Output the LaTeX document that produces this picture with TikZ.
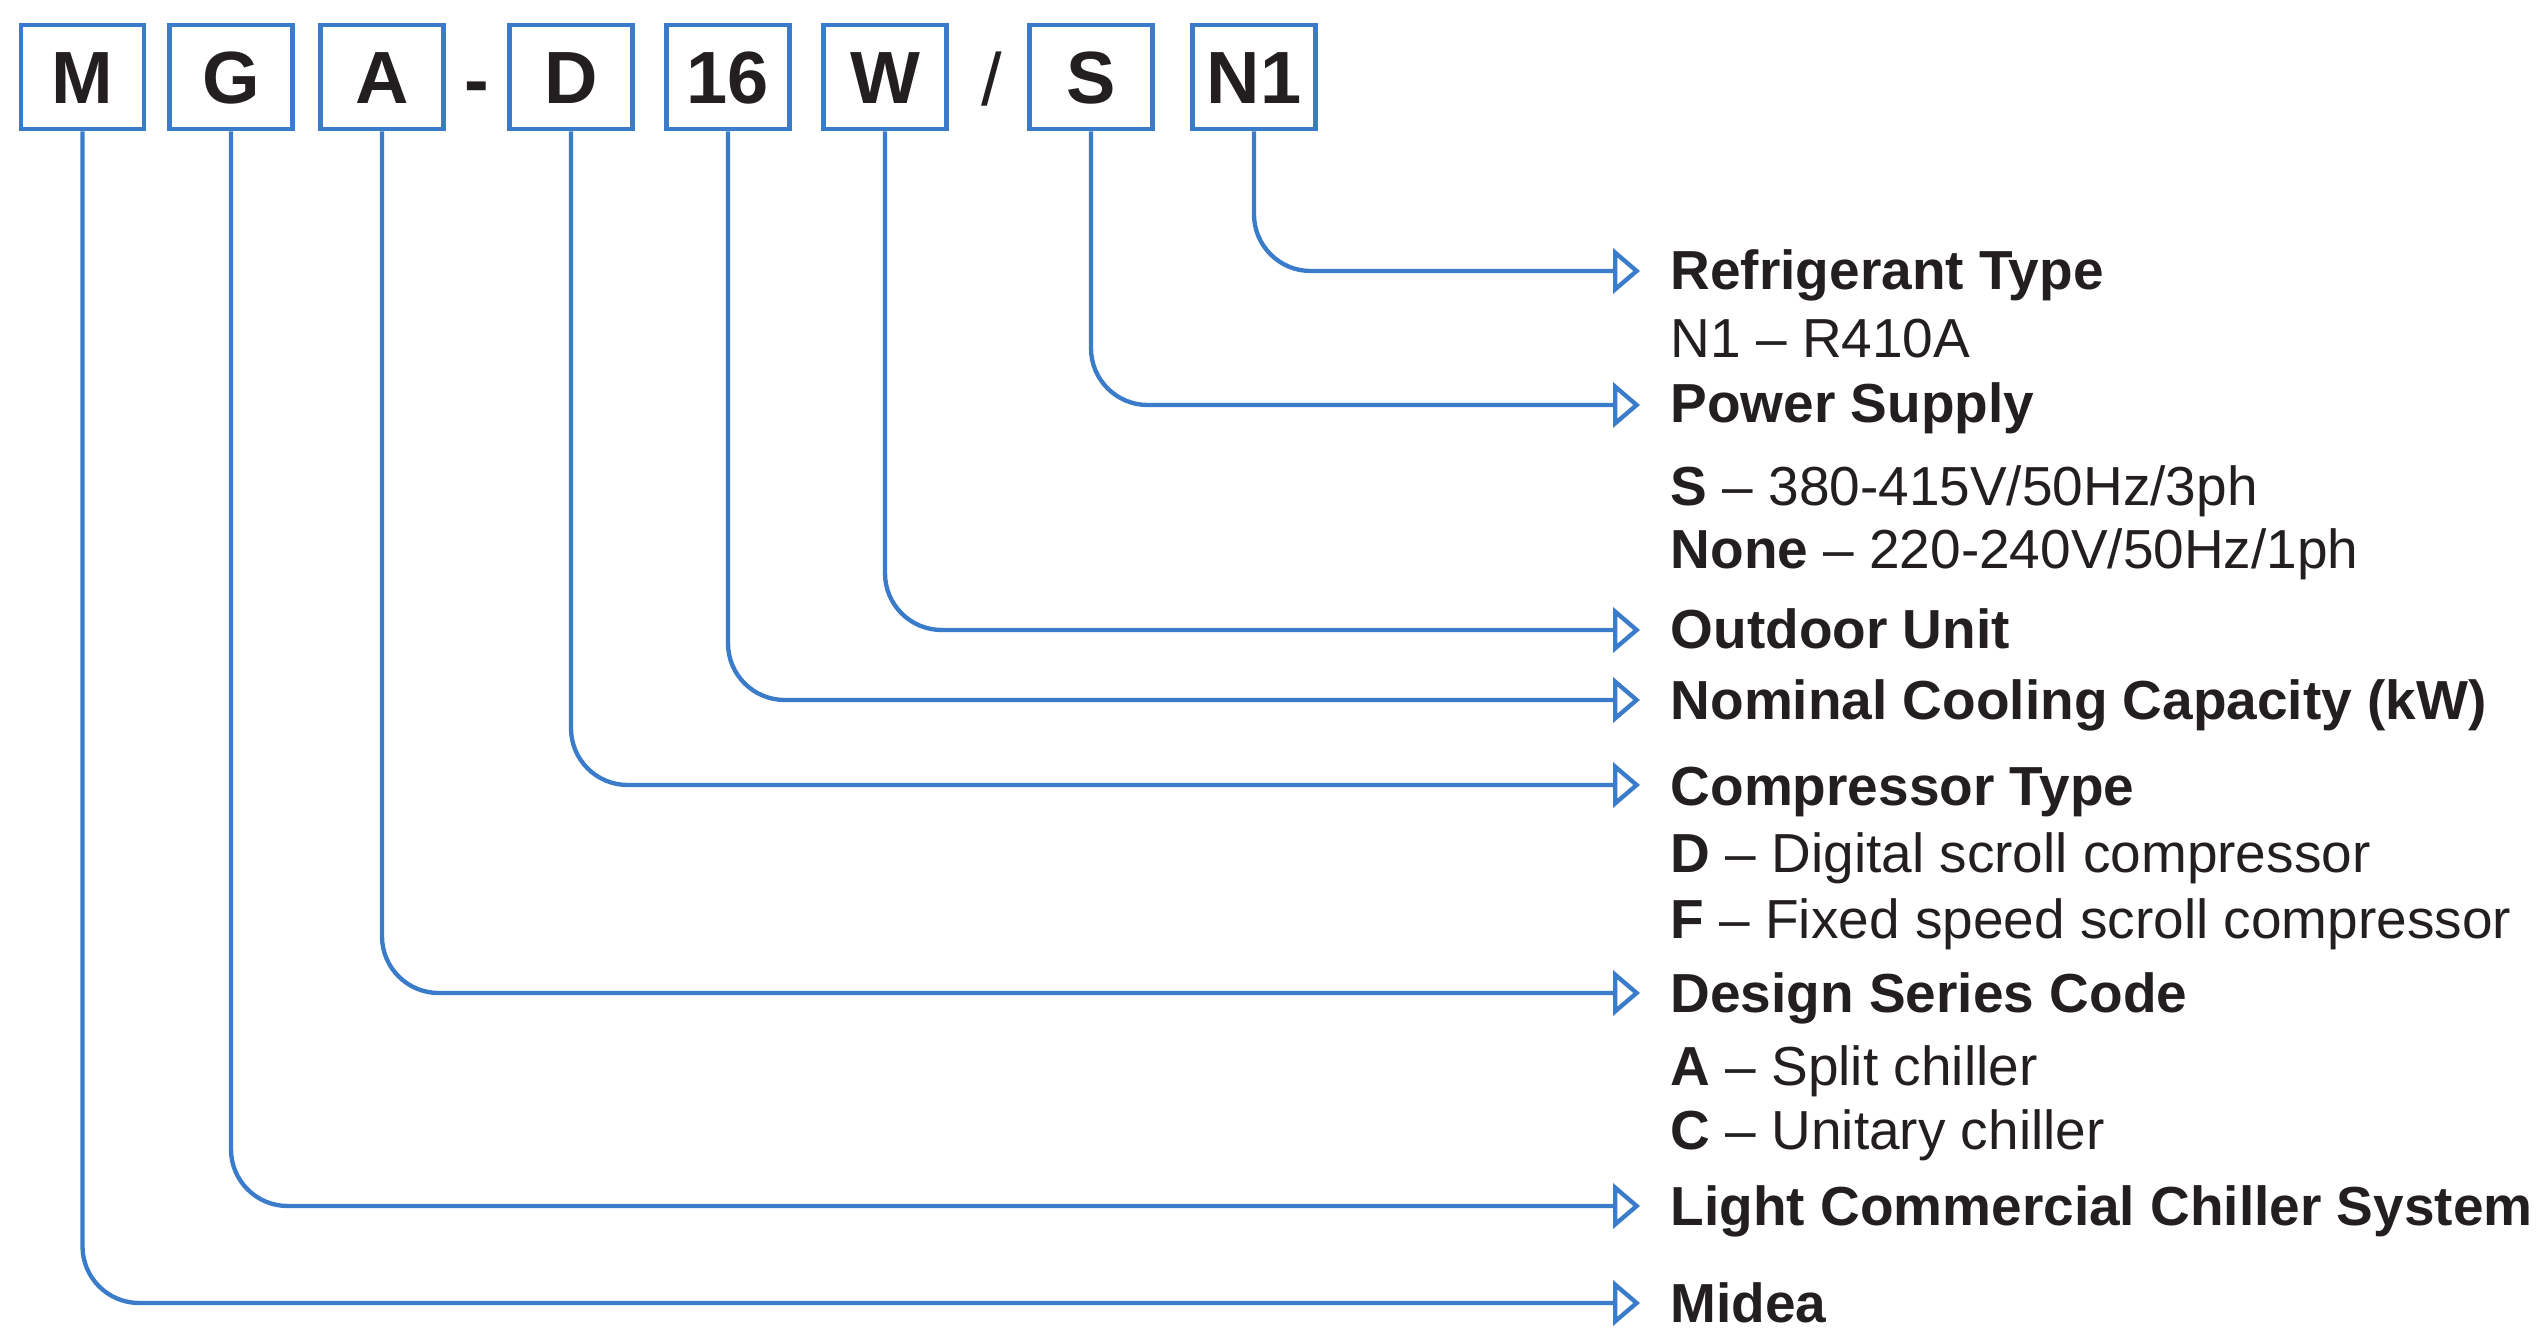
\documentclass[tikz,border=0pt]{standalone}
\usepackage{fontspec}
\setmainfont{Liberation Sans}
\usetikzlibrary{arrows.meta}
\definecolor{mblue}{RGB}{58,124,202}
\definecolor{ink}{RGB}{35,31,32}
\begin{document}
\begin{tikzpicture}[x=0.3pt,y=-0.3pt,
  codebox/.style={draw=mblue,line width=1.4pt,minimum width=36.9pt,minimum height=31.2pt,
    inner sep=0pt,font=\fontsize{22.2}{26}\selectfont\bfseries,text height=15.9pt,text depth=0pt,text=ink},
  sep/.style={anchor=base,inner sep=0pt,font=\fontsize{22.2}{26}\selectfont,text=ink},
  conn/.style={draw=mblue,line width=1.3pt,rounded corners=17pt,
    -{Triangle[open,length=8.1pt,width=13.5pt]}},
  head/.style={anchor=base west,inner sep=0pt,font=\fontsize{16.5}{20}\selectfont\bfseries,text=ink},
  sub/.style={anchor=base west,inner sep=0pt,font=\fontsize{16.5}{20}\selectfont,text=ink}]
\useasboundingbox (0,0) rectangle (2548,1330);
% code boxes
\node[codebox] (bM) at (82.5,77) {M};
\node[codebox] (bG) at (231,77) {G};
\node[codebox] (bA) at (382,77) {A};
\node[sep,font=\fontsize{22.2}{26}\selectfont\bfseries] (hy) at (477,106) {-};
\node[codebox] (bD) at (571,77) {D};
\node[codebox] (b16) at (728,77) {16};
\node[codebox] (bW) at (885,77) {W};
\node[sep] (sl) at (992,106) {/};
\node[codebox] (bS) at (1091,77) {S};
\node[codebox] (bN) at (1254,77) {N1};
% arrow end points
\coordinate (eN) at (1640,271);
\coordinate (eS) at (1640,405);
\coordinate (eW) at (1640,630);
\coordinate (e16) at (1640,700);
\coordinate (eD) at (1640,785);
\coordinate (eA) at (1640,993);
\coordinate (eG) at (1640,1206);
\coordinate (eM) at (1640,1303);
% connectors
\draw[conn] (bN.south) |- (eN);
\draw[conn] (bS.south) |- (eS);
\draw[conn] (bW.south) |- (eW);
\draw[conn] (b16.south) |- (e16);
\draw[conn] (bD.south) |- (eD);
\draw[conn] (bA.south) |- (eA);
\draw[conn] (bG.south) |- (eG);
\draw[conn] (bM.south) |- (eM);
% labels
\node[head] (tRef) at (1670,290) {Refrigerant Type};
\node[sub] (tN1) at (1670,358) {N1 – R410A};
\node[head] (tPow) at (1670,423) {Power Supply};
\node[sub] (tS) at (1670,506) {\textbf{S} – 380-415V/50Hz/3ph};
\node[sub] (tNone) at (1670,569) {\textbf{None} – 220-240V/50Hz/1ph};
\node[head] (tOut) at (1670,649) {Outdoor Unit};
\node[head] (tNom) at (1670,719) {Nominal Cooling Capacity (kW)};
\node[head] (tCom) at (1670,805) {Compressor Type};
\node[sub] (tD) at (1670,872) {\textbf{D} – Digital scroll compressor};
\node[sub] (tF) at (1670,938) {\textbf{F} – Fixed speed scroll compressor};
\node[head] (tDes) at (1670,1012) {Design Series Code};
\node[sub] (tA) at (1670,1085) {\textbf{A} – Split chiller};
\node[sub] (tC) at (1670,1149) {\textbf{C} – Unitary chiller};
\node[head] (tLig) at (1670,1225) {Light Commercial Chiller System};
\node[head] (tMid) at (1670,1322) {Midea};
\end{tikzpicture}
\end{document}
